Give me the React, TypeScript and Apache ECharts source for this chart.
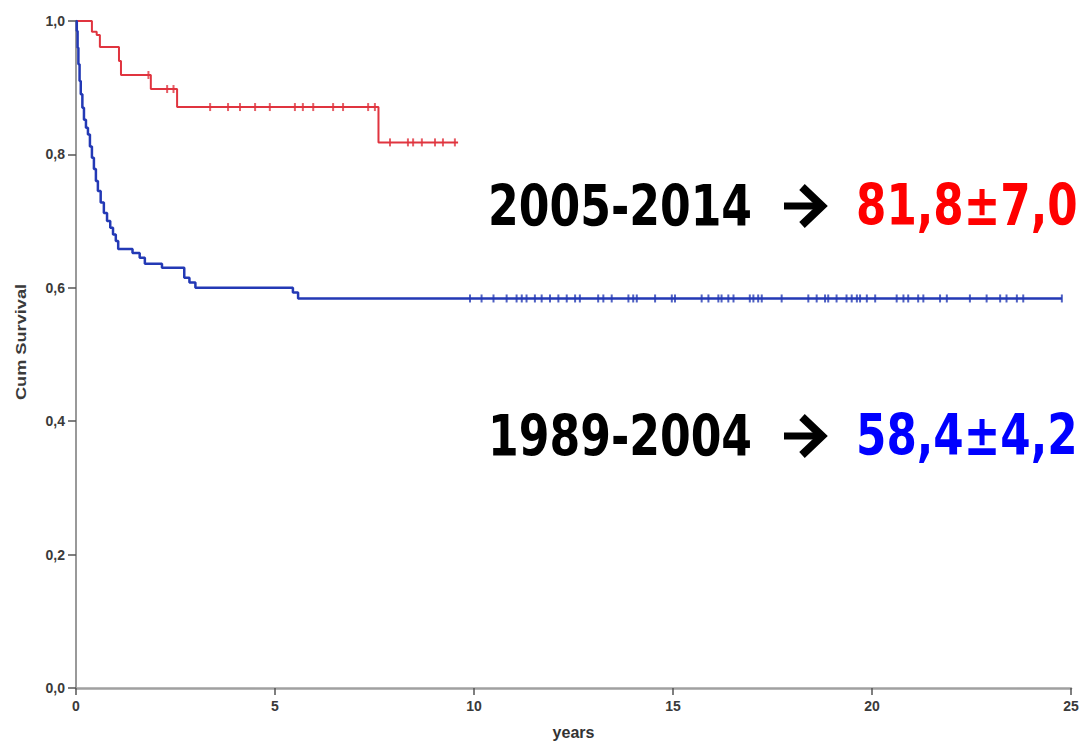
import React, { useEffect, useRef } from "react";
import * as echarts from "echarts";

// Kaplan-Meier step data (years, cumulative survival)
const redTimes = [0, 0.4, 0.52, 0.6, 1.08, 1.13, 1.88, 2.54, 7.6, 9.6];
const redSurv = [1.0, 0.984, 0.979, 0.961, 0.94, 0.919, 0.898, 0.871, 0.818, 0.818];

const redCensorTimes = [1.82, 2.29, 2.45, 3.37, 3.82, 4.12, 4.5, 4.87, 5.5, 5.7, 5.96, 6.46, 6.71, 7.34, 7.51, 7.89, 8.34, 8.47, 8.69, 9.02, 9.22, 9.52];
const redCensorSurv = [0.919, 0.898, 0.898, 0.871, 0.871, 0.871, 0.871, 0.871, 0.871, 0.871, 0.871, 0.871, 0.871, 0.871, 0.871, 0.818, 0.818, 0.818, 0.818, 0.818, 0.818, 0.818];

const blueTimes = [0, 0.02, 0.04, 0.06, 0.09, 0.12, 0.16, 0.2, 0.25, 0.3, 0.35, 0.4, 0.45, 0.5, 0.55, 0.62, 0.7, 0.78, 0.86, 0.93, 1.0, 1.06, 1.42, 1.6, 1.73, 2.16, 2.72, 2.85, 3.0, 5.45, 5.58, 24.77];
const blueSurv = [1.0, 0.985, 0.96, 0.935, 0.91, 0.89, 0.87, 0.852, 0.84, 0.83, 0.812, 0.795, 0.778, 0.76, 0.745, 0.728, 0.712, 0.70, 0.69, 0.68, 0.67, 0.658, 0.652, 0.645, 0.636, 0.63, 0.615, 0.608, 0.6, 0.593, 0.584, 0.584];

const blueCensorTimes = [9.9, 10.19, 10.49, 10.82, 11.07, 11.2, 11.32, 11.53, 11.7, 11.91, 12.12, 12.33, 12.54, 12.66, 13.12, 13.25, 13.46, 13.88, 14.0, 14.09, 14.55, 14.97, 15.05, 15.72, 15.89, 16.14, 16.22, 16.39, 16.52, 16.93, 17.02, 17.14, 17.23, 17.73, 18.4, 18.61, 18.82, 18.9, 19.11, 19.36, 19.49, 19.62, 19.7, 19.87, 20.08, 20.62, 20.79, 20.91, 21.16, 21.29, 21.71, 21.88, 22.46, 22.88, 23.22, 23.38, 23.64, 23.8, 24.77];
const blueCensorSurv = blueCensorTimes.map(() => 0.584);

const yTicks = [0, 0.2, 0.4, 0.6, 0.8, 1.0];
const xTicks = [0, 5, 10, 15, 20, 25];

const labelTop = ["2005-2014", "81,8\u00b17,0"];
const labelBottom = ["1989-2004", "58,4\u00b14,2"];

const RED = "#e0343f";
const BLUE = "#2339b5";

export default function App() {
  const ref = useRef<HTMLDivElement>(null);
  useEffect(() => {
    if (!ref.current) return;
    const chart = echarts.init(ref.current, null, { renderer: "svg" });
    const pair = (a: number[], b: number[]) => a.map((t, i) => [t, b[i]]);
    const bigFont = '"DejaVu Sans", sans-serif';
    const axisFont = "Liberation Sans";
    const bigText = (text: string, x: number, y: number, fill: string, sx: number) => ({
      type: "text",
      x,
      y,
      scaleX: sx,
      scaleY: 1.2,
      style: { text, font: `bold 48px ${bigFont}`, fill, verticalAlign: "middle" },
    });
    const arrow = (cy: number) => ({
      type: "group",
      children: [
        { type: "line", shape: { x1: 784, y1: cy, x2: 822, y2: cy }, style: { stroke: "#000", lineWidth: 7 } },
        {
          type: "polyline",
          shape: { points: [[802, cy - 19], [822, cy], [802, cy + 19]] },
          style: { stroke: "#000", lineWidth: 8, fill: null, lineJoin: "miter" },
        },
      ],
    });
    chart.setOption({
      animation: false,
      backgroundColor: "#ffffff",
      grid: { left: 76, right: 9, top: 21, bottom: 56, containLabel: false, outerBoundsMode: "none" },
      xAxis: {
        type: "value",
        min: xTicks[0],
        max: xTicks[xTicks.length - 1],
        interval: 5,
        name: "years",
        nameLocation: "middle",
        nameGap: 36,
        nameTextStyle: { fontFamily: axisFont, fontWeight: "bold", fontSize: 16, color: "#333" },
        axisLine: { lineStyle: { color: "#a0a0a0", width: 2.5 } },
        axisTick: { show: true, length: 7, lineStyle: { color: "#555", width: 1.5 } },
        axisLabel: { margin: 11, fontFamily: axisFont, fontWeight: "bold", fontSize: 14, color: "#3a3a3a" },
        splitLine: { show: false },
      },
      yAxis: {
        type: "value",
        min: yTicks[0],
        max: yTicks[yTicks.length - 1],
        interval: 0.2,
        axisLine: { show: true, lineStyle: { color: "#999", width: 2 } },
        axisTick: { show: true, length: 8, lineStyle: { color: "#555", width: 1.5 } },
        axisLabel: {
          margin: 11,
          fontFamily: axisFont,
          fontWeight: "bold",
          fontSize: 14,
          color: "#3a3a3a",
          formatter: (v: number) => v.toFixed(1).replace(".", ","),
        },
        splitLine: { show: false },
      },
      series: [
        {
          type: "line",
          step: "end",
          data: pair(redTimes, redSurv),
          showSymbol: false,
          symbol: "none",
          lineStyle: { color: RED, width: 2 },
          z: 3,
        },
        {
          type: "line",
          step: "end",
          data: pair(blueTimes, blueSurv),
          showSymbol: false,
          symbol: "none",
          lineStyle: { color: BLUE, width: 2.5 },
          z: 3,
        },
        {
          type: "scatter",
          data: pair(redCensorTimes, redCensorSurv),
          symbol: "rect",
          symbolSize: [2, 8],
          itemStyle: { color: RED },
          z: 4,
        },
        {
          type: "scatter",
          data: pair(blueCensorTimes, blueCensorSurv),
          symbol: "rect",
          symbolSize: [2, 8],
          itemStyle: { color: BLUE },
          z: 4,
        },
      ],
      graphic: [
        {
          type: "text",
          x: 21,
          y: 342,
          rotation: Math.PI / 2,
          scaleX: 1.3,
          style: {
            text: "Cum Survival",
            fontFamily: axisFont,
            fontWeight: "bold",
            fontSize: 14,
            fill: "#3a3a3a",
            align: "center",
            verticalAlign: "middle",
          },
        },
        bigText(labelTop[0], 488, 205.5, "#000", 0.92),
        arrow(206),
        bigText(labelTop[1], 856, 205.5, "#ff0000", 0.91),
        bigText(labelBottom[0], 488, 435.5, "#000", 0.92),
        arrow(436),
        bigText(labelBottom[1], 856, 435.5, "#0000ff", 0.91),
      ],
    });
    return () => chart.dispose();
  }, []);
  return <div ref={ref} style={{ width: 1080, height: 744, position: "absolute", left: 0, top: 0 }} />;
}
